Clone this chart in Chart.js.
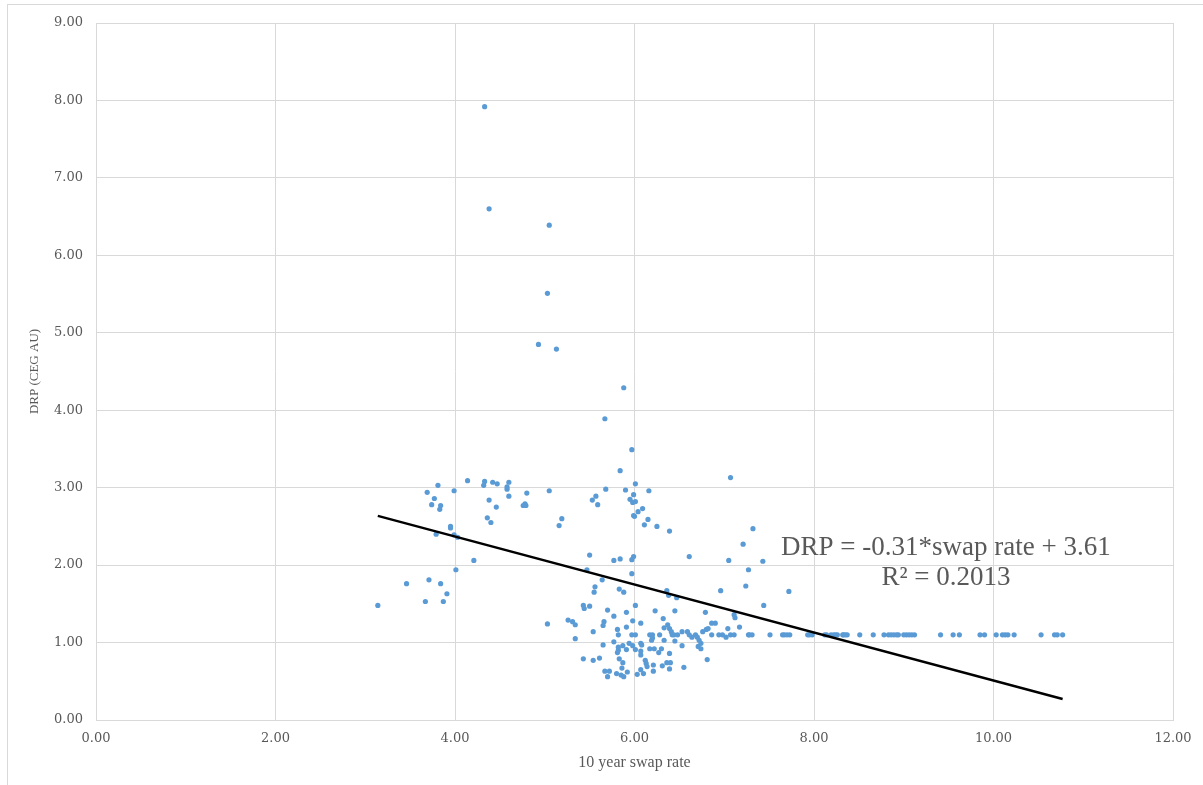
<!DOCTYPE html>
<html>
<head>
<meta charset="utf-8">
<script src="https://cdn.jsdelivr.net/npm/chart.js@4/dist/chart.umd.min.js"></script>
<style>
  html, body { margin: 0; padding: 0; background: #fff; }
  .frame {
    position: absolute; left: 7px; top: 4px; width: 1300px; height: 900px;
    border-left: 1px solid #d9d9d9; border-top: 1px solid #d9d9d9;
  }
  .wrap { position: absolute; left: 0; top: 0; width: 1203px; height: 785px; }
</style>
</head>
<body>
<div class="frame"></div>
<div class="wrap"><canvas id="myChart" width="1203" height="785"></canvas></div>
<script>
const CHART = document.getElementById('myChart').getContext('2d');

// 10 year swap rate (x) and DRP (y)
const swapRate = [
  3.14, 3.46, 3.71, 3.84, 3.91, 3.67, 3.87, 4.01, 4.21, 3.79,
  3.95, 3.95, 3.99, 4.03, 3.69, 3.81, 3.77, 3.74, 3.84, 3.83,
  3.99, 4.14, 4.32, 4.33, 4.42, 4.47, 4.38, 4.46, 4.36, 4.40,
  4.58, 4.58, 4.60, 4.60, 4.80, 4.76, 4.78, 4.79, 5.05, 5.19,
  5.16, 5.03, 5.50, 5.47, 5.64, 5.56, 5.55, 5.43, 5.44, 5.50,
  5.70, 5.26, 5.31, 5.34, 5.66, 5.65, 5.68, 5.53, 5.57, 5.59,
  4.33, 4.38, 5.05, 5.03, 4.93, 5.13, 5.88, 5.67, 5.97, 5.84,
  6.01, 5.90, 6.16, 5.99, 5.95, 5.98, 6.01, 6.09, 6.04, 5.99,
  6.00, 6.15, 6.11, 6.25, 6.39,
  5.77, 5.84, 5.97, 5.99, 6.61, 7.05, 5.97, 5.83, 5.88, 6.36,
  6.38, 6.47, 6.96, 7.11, 7.12, 6.01, 5.91, 6.23, 6.45, 6.79,
  5.77, 5.98, 6.07, 6.32, 6.37, 6.39, 6.41, 5.34, 5.54, 5.81,
  5.82, 5.91, 5.97, 6.01, 6.17, 6.20, 6.20, 6.19, 6.28, 6.33,
  6.42, 6.44, 6.48, 6.53, 6.59, 6.61, 6.64, 6.68, 6.70, 6.76,
  6.80, 6.82, 6.86, 6.90, 6.86, 6.94, 6.98, 7.02, 7.04, 7.07,
  7.11, 7.17, 6.72, 6.74, 6.71, 6.74, 6.81, 6.53, 6.45, 6.33,
  6.17, 6.22, 6.30, 6.27, 6.39, 6.07, 6.08, 6.07, 6.07, 6.01,
  5.94, 5.98, 5.91, 5.87, 5.82, 5.82, 5.81, 5.77, 5.65, 5.61,
  5.54, 5.43, 5.83, 5.87, 6.12, 6.13, 6.14, 6.21, 6.31, 6.36,
  6.40, 6.39, 6.55, 5.86, 5.67, 5.72, 5.70, 5.92, 5.80, 5.85,
  5.88, 6.07, 6.03, 6.10, 6.21,
  7.07, 7.32, 7.21, 7.43, 7.27, 7.24, 7.72, 7.44,
  7.27, 7.28, 7.31, 7.51, 7.65, 7.67, 7.70, 7.73, 7.93, 7.95,
  7.98, 8.12, 8.14, 8.19, 8.22, 8.24, 8.26, 8.32, 8.33, 8.35,
  8.37, 8.51, 8.66, 8.78, 8.83, 8.86, 8.89, 8.92, 8.94, 9.00,
  9.03, 9.06, 9.09, 9.12, 9.41, 9.55, 9.62, 9.85, 9.90, 10.03,
  10.10, 10.13, 10.16, 10.23, 10.53, 10.68, 10.71, 10.77
];

const drp = [
  1.48, 1.76, 1.81, 1.76, 1.63, 1.53, 1.53, 1.94, 2.06, 2.40,
  2.50, 2.48, 2.39, 2.36, 2.94, 3.03, 2.86, 2.78, 2.77, 2.72,
  2.96, 3.09, 3.03, 3.08, 3.07, 3.05, 2.84, 2.75, 2.61, 2.55,
  3.01, 2.98, 3.07, 2.89, 2.93, 2.77, 2.79, 2.77, 2.96, 2.60,
  2.51, 1.24, 2.13, 1.94, 1.81, 1.72, 1.65, 1.48, 1.44, 1.47,
  1.42, 1.29, 1.27, 1.23, 1.27, 1.22, 2.98, 2.84, 2.89, 2.78,
  7.92, 6.60, 6.39, 5.51, 4.85, 4.79, 4.29, 3.89, 3.49, 3.22,
  3.05, 2.97, 2.96, 2.91, 2.85, 2.81, 2.82, 2.73, 2.69, 2.64,
  2.63, 2.59, 2.52, 2.50, 2.44,
  2.06, 2.08, 2.07, 2.11, 2.11, 2.06, 1.89, 1.69, 1.65, 1.67,
  1.61, 1.58, 1.67, 1.36, 1.32, 1.48, 1.39, 1.41, 1.41, 1.39,
  1.34, 1.28, 1.25, 1.31, 1.23, 1.18, 1.14, 1.05, 1.14, 1.17,
  1.10, 1.20, 1.10, 1.10, 1.10, 1.10, 1.06, 1.03, 1.10, 1.19,
  1.10, 1.10, 1.10, 1.14, 1.14, 1.10, 1.07, 1.10, 1.07, 1.14,
  1.17, 1.18, 1.25, 1.25, 1.10, 1.10, 1.10, 1.07, 1.18, 1.10,
  1.10, 1.20, 1.03, 0.99, 0.95, 0.92, 0.78, 0.96, 1.02, 1.03,
  0.92, 0.92, 0.92, 0.87, 0.86, 0.99, 0.97, 0.89, 0.84, 0.91,
  0.99, 0.96, 0.91, 0.96, 0.94, 0.90, 0.87, 1.01, 0.97, 0.80,
  0.77, 0.79, 0.79, 0.74, 0.77, 0.73, 0.69, 0.71, 0.70, 0.74,
  0.74, 0.66, 0.68, 0.67, 0.63, 0.63, 0.56, 0.62, 0.60, 0.58,
  0.56, 0.65, 0.59, 0.60, 0.63,
  3.13, 2.47, 2.27, 2.05, 1.94, 1.73, 1.66, 1.48,
  1.10, 1.10, 1.10, 1.10, 1.10, 1.10, 1.10, 1.10, 1.10, 1.10,
  1.10, 1.10, 1.10, 1.10, 1.10, 1.10, 1.10, 1.10, 1.10, 1.10,
  1.10, 1.10, 1.10, 1.10, 1.10, 1.10, 1.10, 1.10, 1.10, 1.10,
  1.10, 1.10, 1.10, 1.10, 1.10, 1.10, 1.10, 1.10, 1.10, 1.10,
  1.10, 1.10, 1.10, 1.10, 1.10, 1.10, 1.10, 1.10
];

// linear trendline as shown on the chart
const trendSlope = -0.31;
const trendIntercept = 3.61;
const trendLabel = ['DRP = -0.31*swap rate + 3.61', 'R\u00B2 = 0.2013'];

const xTitle = '10 year swap rate';
const yTitle = 'DRP (CEG AU)';

const GRID = '#d9d9d9';
const TEXT = '#595959';

let points = swapRate.map((x, i) => ({ x: x, y: drp[i] }));
let xMin = Math.min(...swapRate);
let xMax = Math.max(...swapRate);
let trendPoints = [
  { x: xMin, y: trendSlope * xMin + trendIntercept },
  { x: xMax, y: trendSlope * xMax + trendIntercept },
];

// equation text, anchored in data units
const equationPlugin = {
  id: 'equation',
  afterDatasetsDraw(chart) {
    const ctx = chart.ctx;
    const px = chart.scales.x.getPixelForValue(9.47);
    const py = chart.scales.y.getPixelForValue(2.225);
    ctx.save();
    ctx.fillStyle = TEXT;
    ctx.font = '27px "Liberation Serif"';
    ctx.textAlign = 'center';
    ctx.textBaseline = 'middle';
    ctx.fillText(trendLabel[0], px, py);
    ctx.fillText(trendLabel[1], px, py + 30);
    ctx.restore();
  },
};

let scatterChart = new Chart(CHART, {
  type: 'scatter',
  data: {
    datasets: [
      {
        label: 'DRP',
        data: points,
        backgroundColor: '#5b9bd5',
        borderWidth: 0,
        pointRadius: 2.6,
        order: 2,
      },
      {
        type: 'line',
        label: 'Trend',
        data: trendPoints,
        borderColor: '#000000',
        borderWidth: 2.4,
        pointRadius: 0,
        fill: false,
        order: 1,
      },
    ],
  },
  options: {
    responsive: false,
    animation: false,
    layout: { padding: { left: 8, top: 23, right: 30, bottom: 0 } },
    plugins: {
      legend: { display: false },
      tooltip: { enabled: false },
    },
    scales: {
      x: {
        type: 'linear',
        min: 0,
        max: 12,
        ticks: {
          stepSize: 2,
          padding: 11,
          color: TEXT,
          font: { family: 'DejaVu Serif, serif', size: 13 },
          callback: (v) => v.toFixed(2),
        },
        grid: { color: GRID, drawTicks: false },
        border: { color: GRID },
        title: {
          display: true,
          text: xTitle,
          color: TEXT,
          font: { family: 'Liberation Serif, serif', size: 16 },
          padding: { top: 0, bottom: 13 },
        },
        afterFit: (axis) => { axis.height = 65; },
      },
      y: {
        min: 0,
        max: 9,
        ticks: {
          stepSize: 1,
          padding: 13,
          color: TEXT,
          font: { family: 'DejaVu Serif, serif', size: 13 },
          callback: (v) => v.toFixed(2),
        },
        grid: { color: GRID, drawTicks: false },
        border: { color: GRID },
        title: {
          display: true,
          text: yTitle,
          color: TEXT,
          font: { family: 'Liberation Serif, serif', size: 13 },
          padding: { top: 19, bottom: 0 },
        },
        afterFit: (axis) => { axis.width = 88; },
      },
    },
  },
  plugins: [equationPlugin],
});
</script>
</body>
</html>
